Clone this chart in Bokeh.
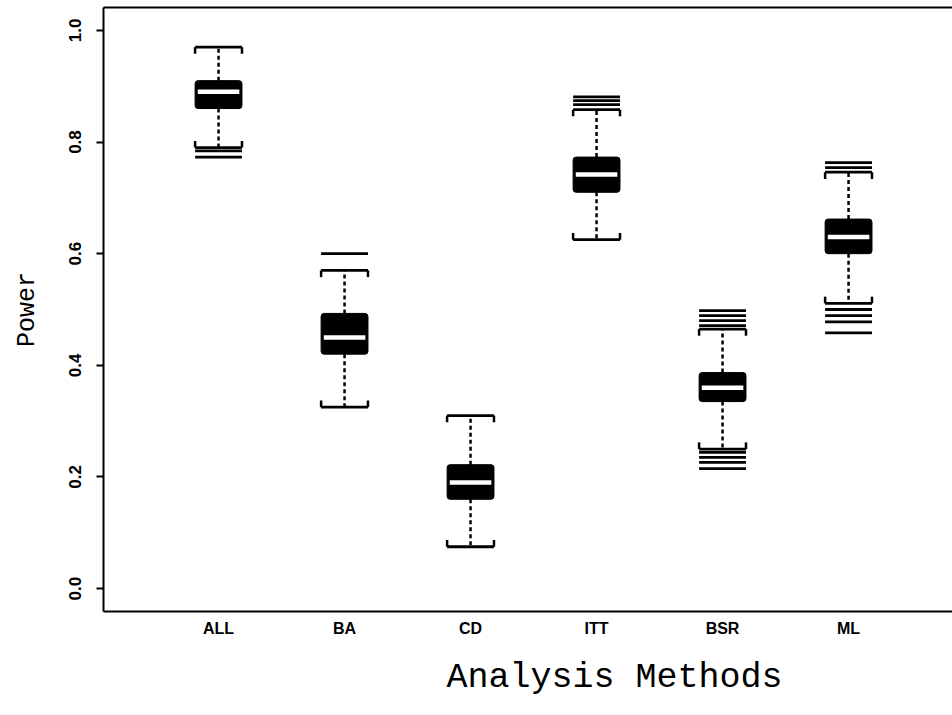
from bokeh.plotting import figure
from bokeh.models import FixedTicker, LinearAxis, Range1d, Title, NumeralTickFormatter, VBar
from bokeh.embed import file_html
from bokeh.resources import INLINE

# ---- data ----
methods = ["ALL", "BA", "CD", "ITT", "BSR", "ML"]
lower_whisker = [0.79, 0.325, 0.075, 0.625, 0.25, 0.511]
q1 = [0.86, 0.42, 0.16, 0.71, 0.335, 0.60]
median = [0.89, 0.45, 0.19, 0.742, 0.36, 0.63]
q3 = [0.91, 0.493, 0.222, 0.773, 0.387, 0.662]
upper_whisker = [0.97, 0.57, 0.31, 0.858, 0.465, 0.746]
outlier_method = ["ALL", "ALL", "BA", "ITT", "ITT", "ITT",
                  "BSR", "BSR", "BSR", "BSR", "BSR", "BSR", "BSR", "BSR",
                  "ML", "ML", "ML", "ML", "ML", "ML"]
outlier_value = [0.784, 0.773, 0.60, 0.867, 0.874, 0.881,
                 0.244, 0.235, 0.226, 0.215, 0.471, 0.480, 0.489, 0.498,
                 0.50, 0.489, 0.478, 0.458, 0.754, 0.763]
y_ticks = [0.0, 0.2, 0.4, 0.6, 0.8, 1.0]

# ---- derived positions ----
xs = [i + 1 for i in range(len(methods))]
pos = {m: i + 1 for i, m in enumerate(methods)}
ox = [pos[m] for m in outlier_method]
hw = 0.186      # half box width (data units)
mhw = 0.165     # half median width
tick = 0.012    # staple end tick length

p = figure(width=952, height=715,
           x_range=Range1d(0.087, 6.825), y_range=Range1d(-0.041, 1.041),
           output_backend="svg", toolbar_location=None,
           min_border_left=103, min_border_right=0, min_border_top=7, min_border_bottom=104)
p.outline_line_color = None
p.grid.visible = False
p.background_fill_color = "white"
p.border_fill_color = "white"

# y axis
ya = p.yaxis[0]
ya.ticker = FixedTicker(ticks=y_ticks)
ya.formatter = NumeralTickFormatter(format="0.0")
ya.major_label_orientation = "vertical"
ya.axis_line_width = 2
ya.major_tick_line_width = 2
ya.major_tick_out = 7
ya.major_tick_in = 0
ya.minor_tick_out = 0
ya.minor_tick_in = 0
ya.major_label_standoff = 15
ya.major_label_text_font = "Liberation Sans"
ya.major_label_text_font_style = "bold"
ya.major_label_text_font_size = "17px"
ya.major_label_text_color = "black"
ya.axis_label = "Power"
ya.axis_label_text_font = "Liberation Mono"
ya.axis_label_text_font_style = "normal"
ya.axis_label_text_font_size = "25px"
ya.axis_label_text_color = "black"
ya.axis_label_standoff = 25

# x axis
xa = p.xaxis[0]
xa.ticker = FixedTicker(ticks=xs)
xa.major_label_overrides = {x: m for x, m in zip(xs, methods)}
xa.axis_line_width = 2
xa.major_tick_out = 0
xa.major_tick_in = 0
xa.minor_tick_out = 0
xa.minor_tick_in = 0
xa.major_label_standoff = 8
xa.major_label_text_font = "Liberation Sans"
xa.major_label_text_font_style = "bold"
xa.major_label_text_font_size = "16px"
xa.major_label_text_color = "black"

# top border
top = LinearAxis(ticker=FixedTicker(ticks=[]), axis_line_width=2,
                 major_tick_out=0, major_tick_in=0, minor_tick_out=0, minor_tick_in=0,
                 major_label_text_font_size="0px")
p.add_layout(top, "above")

# x title
t = Title(text="Analysis Methods", align="left", offset=343,
          text_font="Liberation Mono", text_font_size="35px",
          text_font_style="normal", text_color="black", standoff=32)
p.add_layout(t, "below")

# boxes
box_kw = {"border_radius": 3} if "border_radius" in VBar.properties() else {}
p.vbar(x=xs, width=2 * hw, bottom=q1, top=q3, fill_color="black",
       line_color="black", line_width=1, **box_kw)
p.segment(x0=[x - mhw for x in xs], y0=median, x1=[x + mhw for x in xs], y1=median,
          line_color="white", line_width=4.5)

# whiskers
p.segment(x0=xs, y0=q3, x1=xs, y1=upper_whisker, line_color="black",
          line_width=2.5, line_dash="4 3")
p.segment(x0=xs, y0=q1, x1=xs, y1=lower_whisker, line_color="black",
          line_width=2.5, line_dash="4 3")

# staples
for yv, sign in ((upper_whisker, -1), (lower_whisker, 1)):
    p.segment(x0=[x - hw for x in xs], y0=yv, x1=[x + hw for x in xs], y1=yv,
              line_color="black", line_width=2.8)
    p.segment(x0=[x - hw for x in xs], y0=yv, x1=[x - hw for x in xs],
              y1=[v + sign * tick for v in yv], line_color="black", line_width=2.5)
    p.segment(x0=[x + hw for x in xs], y0=yv, x1=[x + hw for x in xs],
              y1=[v + sign * tick for v in yv], line_color="black", line_width=2.5)

# outliers
p.segment(x0=[x - hw for x in ox], y0=outlier_value, x1=[x + hw for x in ox],
          y1=outlier_value, line_color="black", line_width=2.8)

open("out.html", "w").write(file_html(p, INLINE))
